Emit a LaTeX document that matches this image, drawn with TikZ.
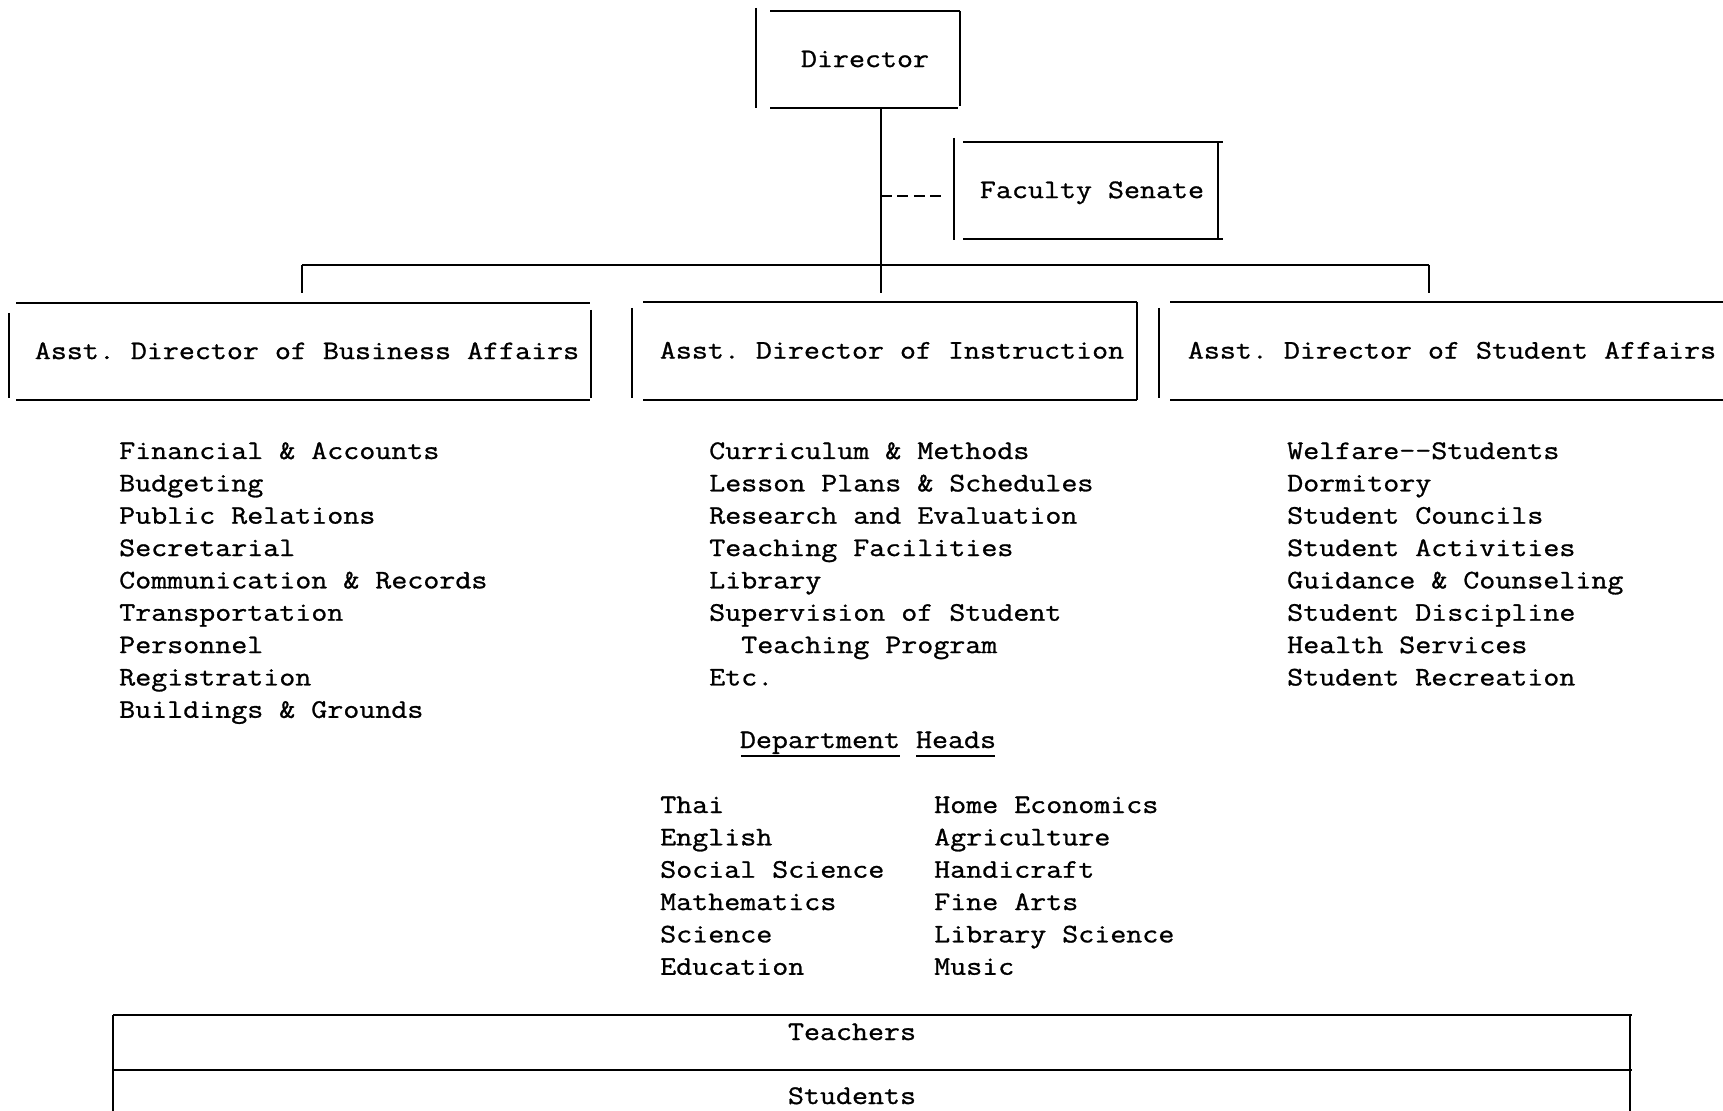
\documentclass[tikz,border=0pt]{standalone}
\usepackage{fontspec}
\setmonofont{Latin Modern Mono}[FakeStretch=1.16,FakeBold=1]
\begin{document}
\begin{tikzpicture}[x=0.5pt,y=-0.5pt,line width=1.2pt,
  every node/.style={font=\fontsize{13.4}{16}\selectfont\ttfamily},
  boxnode/.style={inner sep=0pt,text height=7.6pt,text depth=0pt,draw=none},
  item/.style={anchor=base west,inner sep=0pt},
  lbl/.style={anchor=base,inner sep=0pt},
  tdash/.style={dash pattern=on 5.5pt off 2.7pt}]
\useasboundingbox (0,0) rectangle (1723,1111);
\fill[white] (0,0) rectangle (1723,1111);

% ---- Director
\node[boxnode,minimum width=95pt,minimum height=48.5pt] (dir) at (865,59.5) {Director};
\draw (756,8) -- (756,108);
\draw (770,11) -- (960,11);
\draw (770,108) -- (958,108);
\draw (960,11) -- (960,106);

% ---- Faculty Senate
\node[boxnode,minimum width=127.5pt,minimum height=48.5pt] (fs) at (1092,190.5) {Faculty Senate};
\draw (954,138) -- (954,240);
\draw (963,142) -- (1223,142);
\draw (963,239) -- (1223,239);
\draw (1218,142) -- (1218,240);

% ---- Assistant directors
\node[boxnode,minimum width=287pt,minimum height=48.5pt] (bus) at (307,351.5) {Asst. Director of Business Affairs};
\draw (9,313) -- (9,398);
\draw (16,303) -- (590,303);
\draw (16,400) -- (590,400);
\draw (591,310) -- (591,398);

\node[boxnode,minimum width=247pt,minimum height=49pt] (ins) at (892,351) {Asst. Director of Instruction};
\draw (632,308) -- (632,398);
\draw (643,302) -- (1137,302);
\draw (643,400) -- (1137,400);
\draw (1137,302) -- (1137,400);

\node[boxnode,minimum width=270pt,minimum height=49pt] (stu) at (1452,351) {Asst. Director of Student Affairs};
\draw (1159,308) -- (1159,398);
\draw (1170,302) -- (1723,302);
\draw (1170,400) -- (1723,400);

% ---- Connectors
\coordinate (jn) at (881,265);
\coordinate (jL) at (302,265);
\coordinate (jR) at (1429,265);
\coordinate (fsd) at (945,196);
\draw (dir.south -| jn) -- (jn);
\draw (jL) -- (jR);
\draw (jL) -- ([yshift=4.5pt]jL |- bus.north);
\draw (jn) -- ([yshift=4pt]jn |- ins.north);
\draw (jR) -- ([yshift=4pt]jR |- stu.north);
\draw[tdash] (jn |- fsd) -- (fsd);

% ---- Lists
\foreach \t [count=\i from 0] in {Financial \& Accounts,Budgeting,Public Relations,Secretarial,Communication \& Records,Transportation,Personnel,Registration,Buildings \& Grounds}
  \node[item] (b\i) at (118,459+32.35*\i) {\t};

\foreach \t [count=\i from 0] in {Curriculum \& Methods,Lesson Plans \& Schedules,Research and Evaluation,Teaching Facilities,Library,Supervision of Student,\phantom{xx}Teaching Program,Etc.}
  \node[item] (n\i) at (708,459+32.35*\i) {\t};

\foreach \t [count=\i from 0] in {Welfare-\kern0pt-Students,Dormitory,Student Councils,Student Activities,Guidance \& Counseling,Student Discipline,Health Services,Student Recreation}
  \node[item] (s\i) at (1286,459+32.35*\i) {\t};

% ---- Department heads
\node[lbl] (dh) at (868,748) {Department Heads};
\draw (741,756) -- (900,756);
\draw (916,756) -- (995,756);

\foreach \t [count=\i from 0] in {Thai,English,Social Science,Mathematics,Science,Education}
  \node[item] (dl\i) at (659,813+32.35*\i) {\t};
\foreach \t [count=\i from 0] in {Home Economics,Agriculture,Handicraft,Fine Arts,Library Science,Music}
  \node[item] (dr\i) at (933,813+32.35*\i) {\t};

% ---- Teachers / Students
\draw (113,1015) -- (1632,1015);
\draw (113,1070) -- (1632,1070);
\draw (113,1015) -- (113,1111);
\draw (1630,1015) -- (1630,1111);
\node[lbl] (tch) at (852,1040) {Teachers};
\node[lbl] (sts) at (852,1104) {Students};
\end{tikzpicture}
\end{document}
